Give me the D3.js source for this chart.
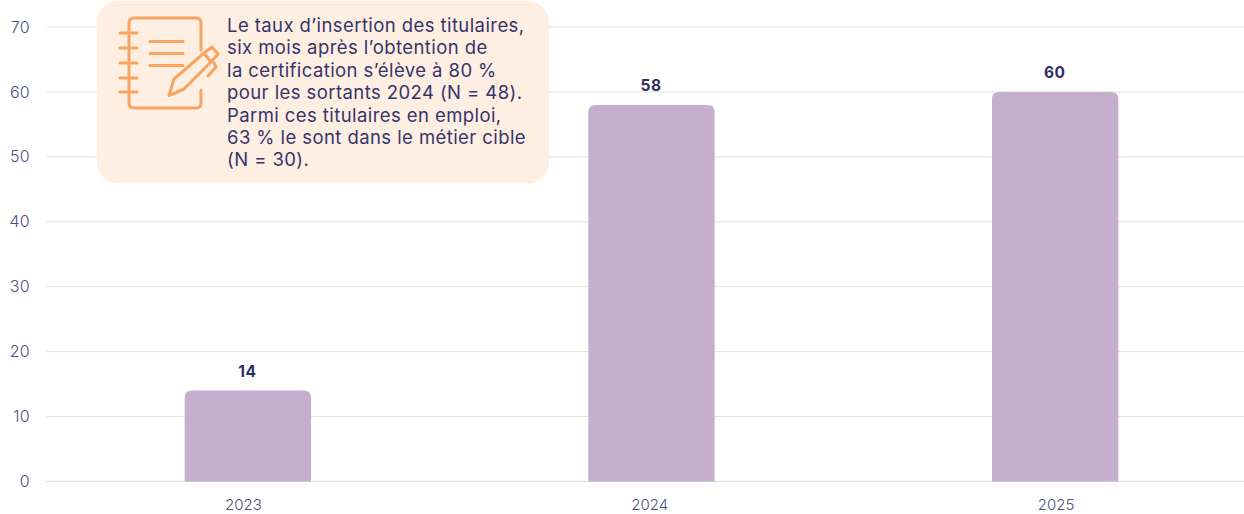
<!DOCTYPE html>
<html>
<head>
<meta charset="utf-8">
<script src="https://cdn.jsdelivr.net/npm/d3@7"></script>
<style>
html, body { margin: 0; padding: 0; background: #fff; }
svg { display: block; font-family: Inter, "Open Sans", sans-serif; }
</style>
</head>
<body>
<svg id="chart"></svg>
<script>
//Values
const years = ["2023", "2024", "2025"];
const counts = [14, 58, 60];
const yTicks = [0, 10, 20, 30, 40, 50, 60, 70];
const noteLines = [
    "Le taux d\u2019insertion des titulaires,",
    "six mois apr\u00e8s l\u2019obtention de",
    "la certification s\u2019\u00e9l\u00e8ve \u00e0 80 %",
    "pour les sortants 2024 (N = 48).",
    "Parmi ces titulaires en emploi,",
    "63 % le sont dans le m\u00e9tier cible",
    "(N = 30)."
];

const width = 1244, height = 514;
const margin = {left: 46, right: 0, top: 27, bottom: 32.5};

const svg = d3.select("#chart").attr("width", width).attr("height", height);

const xScale = d3.scaleBand().domain(years).range([46, 1257]).paddingInner(0.687).paddingOuter(0.3435);
//The year labels sit on a slightly wider spacing than the bars
const xLabels = d3.scalePoint().domain(years).range([243.5, 1056]);
const yScale = d3.scaleLinear().domain([0, 70]).range([height - margin.bottom, margin.top]);

//Grid lines
svg.selectAll(".grid")
    .data(yTicks)
    .join("line")
    .attr("x1", margin.left)
    .attr("x2", width)
    .attr("y1", d => yScale(d))
    .attr("y2", d => yScale(d))
    .attr("stroke", d => d === 0 ? "#dcdce0" : "#e2e2e4")
    .attr("stroke-width", 1);

//Y axis labels
svg.selectAll(".ytick")
    .data(yTicks)
    .join("text")
    .attr("x", 30)
    .attr("y", d => yScale(d))
    .attr("dy", "0.35em")
    .attr("text-anchor", "end")
    .attr("font-size", 16)
    .attr("font-weight", 300)
    .attr("letter-spacing", 0.3)
    .attr("fill", "#4f4f84")
    .text(d => d);

//Bars with rounded tops
const r = 7;
svg.selectAll(".bar")
    .data(counts)
    .join("path")
    .attr("fill", "#c6aecd")
    .attr("d", (d, i) => {
        const x0 = xScale(years[i]), x1 = x0 + xScale.bandwidth();
        const y0 = yScale(0), y1 = yScale(d);
        return `M${x0},${y0}V${y1 + r}Q${x0},${y1} ${x0 + r},${y1}H${x1 - r}Q${x1},${y1} ${x1},${y1 + r}V${y0}Z`;
    });

//Value labels
svg.selectAll(".value")
    .data(counts)
    .join("text")
    .attr("x", (d, i) => xScale(years[i]) + xScale.bandwidth() / 2 - 0.5)
    .attr("y", d => yScale(d) - 13.5)
    .attr("text-anchor", "middle")
    .attr("font-size", 15.5)
    .attr("font-weight", 700)
    .attr("letter-spacing", 0.5)
    .attr("fill", "#2f2f66")
    .text(d => d);

//X axis labels, kept just inside the bottom edge
svg.selectAll(".xtick")
    .data(years)
    .join("text")
    .attr("x", d => xLabels(d))
    .attr("y", 510.2)
    .attr("text-anchor", "middle")
    .attr("font-size", 15)
    .attr("font-weight", 300)
    .attr("fill", "#4f4f84")
    .text(d => d);

//Note box
svg.append("rect")
    .attr("x", 97).attr("y", 1)
    .attr("width", 452).attr("height", 182.5)
    .attr("rx", 21)
    .attr("fill", "#ffeee2");

svg.selectAll(".note")
    .data(noteLines)
    .join("text")
    .attr("x", 227)
    .attr("y", (d, i) => 32 + i * 22.4)
    .attr("font-size", 18.5)
    .attr("letter-spacing", 0.42)
    .attr("fill", "#35356b")
    .text(d => d);

//Notebook and pen icon
svg.append("path")
    .attr("fill", "none")
    .attr("stroke", "#f7a561")
    .attr("stroke-width", 3)
    .attr("stroke-linecap", "round")
    .attr("stroke-linejoin", "round")
    .attr("d", "M201,50V23Q201,18 196,18H134Q129,18 129,23V103Q129,108 134,108H196Q201,108 201,103V90"
        + "M120,33H137M120,48H137M120,63H137M120,78H137M120,92H137"
        + "M150,41.5H183M150,53.5H183M150,65.5H183"
        + "M169,95.5L174,79L204,53L211,62L184,89Z"
        + "M204,53L212,47L218,54L211,62"
        + "M214,63L216,67L208,76");
</script>
</body>
</html>
